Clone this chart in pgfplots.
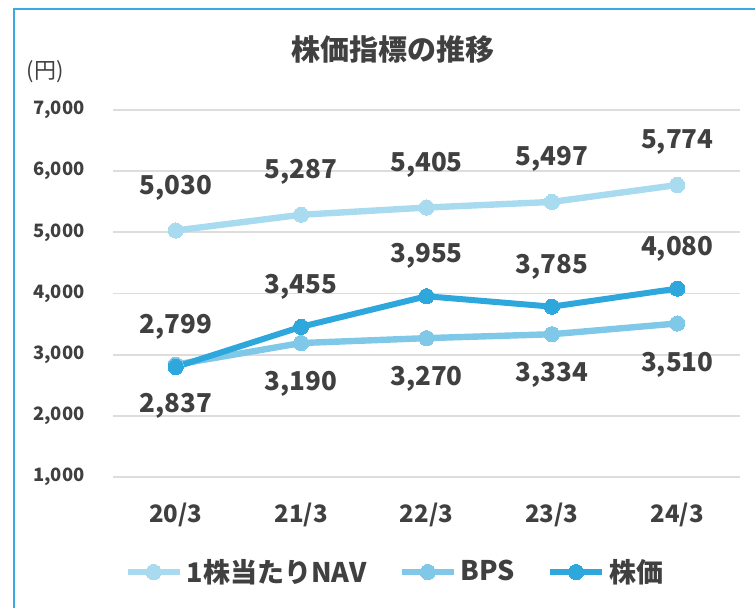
\documentclass[border=0pt]{standalone}
\usepackage{fontspec}
\setmainfont{Noto Sans CJK JP}
\usepackage{pgfplots}
\pgfplotsset{compat=1.18}
\definecolor{navc}{HTML}{A8DBF0}
\definecolor{bpsc}{HTML}{80C8E8}
\definecolor{stockc}{HTML}{2EA7DC}
\definecolor{framec}{HTML}{3AAAE0}
\definecolor{txt}{HTML}{404040}
\definecolor{gridc}{HTML}{DDDDDD}
\begin{document}
\begin{tikzpicture}
\useasboundingbox (0,0) rectangle (377.5pt,-304pt);
\draw[framec, line width=1pt] (7pt,-310pt) -- (7pt,-4.5pt) -- (380pt,-4.5pt);
\node[font=\bfseries\fontsize{14.5pt}{16pt}\selectfont, text=txt] at (196.5pt,-25pt) {株価指標の推移};
\node[font=\fontsize{11pt}{12pt}\selectfont, text=txt] at (22.5pt,-36pt) {(円)};
\begin{axis}[
  at={(56.5pt,-238.5pt)}, anchor=south west,
  scale only axis, width=313.5pt, height=183.5pt,
  xmin=-0.5, xmax=4.5, ymin=1000, ymax=7000,
  ytick={1000,2000,...,7000},
  xtick={0,...,4}, xticklabels={20/3,21/3,22/3,23/3,24/3},
  axis line style={draw=none}, major tick length=0pt,
  ymajorgrids, grid style={gridc, line width=0.9pt},
  /pgf/number format/.cd, 1000 sep={,}, assume math mode=true, /pgfplots/.cd,
  yticklabel style={font=\bfseries\fontsize{9.2pt}{10pt}\selectfont, text=txt, anchor=east, inner sep=0pt, xshift=-14pt},
  xticklabel style={font=\bfseries\fontsize{12pt}{13pt}\selectfont, text=txt, anchor=center, yshift=-19pt},
  nodes near coords={\pgfmathprintnumber{\pgfplotspointmeta}},
  point meta=y,
  every node near coord/.append style={font=\bfseries\fontsize{13pt}{14pt}\selectfont, text=txt, anchor=center},
  legend columns=3,
  legend style={at={(0.451,-0.259)}, anchor=center, draw=none, fill=none,
    font=\bfseries\fontsize{13.5pt}{14pt}\selectfont, text=txt,
    /tikz/every even column/.append style={column sep=14pt}, inner sep=0pt},
  legend image code/.code={\draw[mark repeat=2,mark phase=2] plot coordinates {(0pt,0pt) (13pt,0pt) (26pt,0pt)};},
  clip=false,
]
\addplot[navc, line width=3.2pt, mark=*, mark size=3.8pt, mark options={fill=navc, draw=navc, line width=0pt},
  every node near coord/.append style={yshift=21.5pt}]
  coordinates {(0,5030) (1,5287) (2,5405) (3,5497) (4,5774)};
\addlegendentry{1株当たりNAV}
\addplot[bpsc, line width=3.2pt, mark=*, mark size=3.8pt, mark options={fill=bpsc, draw=bpsc, line width=0pt},
  every node near coord/.append style={yshift=-20.5pt}]
  coordinates {(0,2837) (1,3190) (2,3270) (3,3334) (4,3510)};
\addlegendentry{BPS}
\addplot[stockc, line width=3pt, mark=*, mark size=3.8pt, mark options={fill=stockc, draw=stockc, line width=0pt},
  every node near coord/.append style={yshift=20pt}]
  coordinates {(0,2799) (1,3455) (2,3955) (3,3785) (4,4080)};
\addlegendentry{株価}
\end{axis}
\end{tikzpicture}
\end{document}
